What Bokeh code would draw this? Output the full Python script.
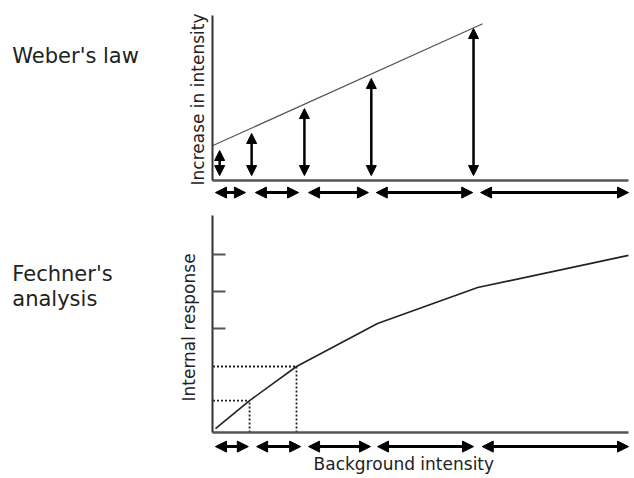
import numpy as np
from bokeh.plotting import figure
from bokeh.models import (ColumnDataSource, Arrow, NormalHead, Label,
                          LinearAxis, FixedTicker, Range1d)
from bokeh.layouts import column
from bokeh.embed import file_html
from bokeh.resources import INLINE

# ---------------- data (relative units) ----------------
# Top panel: Weber's law
weber_line_x = [0.0, 64.9]
weber_line_y = [21.2, 95.0]
test_intensity = [1.6, 9.3, 22.0, 38.1, 62.7]
increment_top = [18.2, 28.5, 43.6, 61.8, 92.1]
increment_base = [3.0, 3.0, 3.0, 3.0, 3.0]
step_start_top = [0.6, 10.2, 23.0, 39.3, 64.4]
step_end_top = [7.8, 20.6, 37.4, 62.5, 100.0]
step_level_top = -7.3

# Bottom panel: Fechner's analysis
response_x = [0.6, 8.8, 20.1, 39.6, 63.7, 100.0]
response_y = [1.8, 14.7, 30.4, 50.2, 66.8, 81.6]
marked_x = [8.8, 20.1]
marked_y = [14.7, 30.4]
response_ticks = [47.9, 65.0, 82.0]
step_start_bot = [0.6, 10.5, 23.0, 39.6, 64.8]
step_end_bot = [8.5, 21.1, 37.9, 62.7, 100.0]
step_level_bot = -6.5

FONT = "DejaVu Sans"
TXT = "#222222"
W = 634
X_LEFT = -50.18  # room for the panel titles left of the axes
X_RIGHT = 100.24


def make_fig(height, y_range):
    p = figure(width=W, height=height, x_range=Range1d(X_LEFT, X_RIGHT), y_range=y_range,
               output_backend="svg", toolbar_location=None, title=None,
               x_axis_location=None, y_axis_location=None,
               min_border_left=4, min_border_right=5,
               min_border_top=0, min_border_bottom=0)
    p.outline_line_color = None
    p.xgrid.visible = False
    p.ygrid.visible = False
    p.background_fill_color = "white"
    p.border_fill_color = "white"
    # x axis drawn at y = 0
    xa = LinearAxis(fixed_location=0, bounds=(0, 100), ticker=FixedTicker(ticks=[]),
                    axis_line_color="#555555", axis_line_width=2.5,
                    major_tick_line_color=None, minor_tick_line_color=None,
                    major_label_standoff=0, major_tick_out=0, major_tick_in=0)
    p.add_layout(xa, "below")
    return p


def add_steps(p, starts, ends, level):
    src = ColumnDataSource(dict(x0=starts, x1=ends, y=[level] * len(starts)))
    p.add_layout(Arrow(start=NormalHead(size=11, fill_color="black", line_color="black", line_width=1),
                       end=NormalHead(size=11, fill_color="black", line_color="black", line_width=1),
                       x_start="x0", y_start="y", x_end="x1", y_end="y",
                       source=src, line_width=3, line_color="black"))


# ---------------- top panel ----------------
top = make_fig(200, Range1d(-12.1, 109.1))
ax_t = LinearAxis(fixed_location=0, bounds=(0, 100), ticker=FixedTicker(ticks=[]),
                  axis_line_color="#333333", axis_line_width=2,
                  major_tick_line_color=None, minor_tick_line_color=None,
                  major_label_standoff=0, major_tick_out=0, major_tick_in=0)
top.add_layout(ax_t, "left")
top.line(weber_line_x, weber_line_y, line_color="#555555", line_width=1.2)

vsrc = ColumnDataSource(dict(x=test_intensity, y0=increment_base, y1=increment_top))
top.add_layout(Arrow(start=NormalHead(size=10, fill_color="black", line_color="black", line_width=1),
                     end=NormalHead(size=10, fill_color="black", line_color="black", line_width=1),
                     x_start="x", y_start="y0", x_end="x", y_end="y1",
                     source=vsrc, line_width=2.5, line_color="black"))
add_steps(top, step_start_top, step_end_top, step_level_top)

top.add_layout(Label(x=-48.3, y=75.7, text="Weber's law", text_font=FONT,
                     text_font_size="21px", text_color=TXT,
                     text_align="left", text_baseline="alphabetic"))
top.add_layout(Label(x=-3.5, y=49.1, text="Increase in intensity", text_font=FONT,
                     text_font_size="17px", text_color=TXT, angle=np.pi / 2,
                     text_align="center", text_baseline="middle"))

# ---------------- bottom panel ----------------
bot = make_fig(278, Range1d(-21.2, 106.9))
ax_b = LinearAxis(fixed_location=0, bounds=(0, 100), ticker=FixedTicker(ticks=response_ticks),
                  axis_line_color="#333333", axis_line_width=2,
                  major_tick_in=13, major_tick_out=0,
                  major_tick_line_color="#555555", major_tick_line_width=2,
                  minor_tick_line_color=None, major_label_standoff=0,
                  major_label_overrides={t: "" for t in response_ticks})
bot.add_layout(ax_b, "left")

bot.segment(x0=[0] * len(marked_x), y0=marked_y, x1=marked_x, y1=marked_y,
            line_color="#222222", line_width=1.8, line_dash="2 2")
bot.segment(x0=marked_x, y0=[0] * len(marked_x), x1=marked_x, y1=marked_y,
            line_color="#222222", line_width=1.8, line_dash="2 2")
bot.line(response_x, response_y, line_color="#222222", line_width=1.6)
add_steps(bot, step_start_bot, step_end_bot, step_level_bot)

bot.add_layout(Label(x=-48.3, y=73.2, text="Fechner's", text_font=FONT,
                     text_font_size="21px", text_color=TXT,
                     text_align="left", text_baseline="alphabetic"))
bot.add_layout(Label(x=-48.3, y=61.7, text="analysis", text_font=FONT,
                     text_font_size="21px", text_color=TXT,
                     text_align="left", text_baseline="alphabetic"))
bot.add_layout(Label(x=-5.8, y=48.4, text="Internal response", text_font=FONT,
                     text_font_size="17px", text_color=TXT, angle=np.pi / 2,
                     text_align="center", text_baseline="middle"))
bot.add_layout(Label(x=24.2, y=-14.5, text="Background intensity", text_font=FONT,
                     text_font_size="17px", text_color=TXT,
                     text_align="left", text_baseline="alphabetic"))

layout = column(top, bot, spacing=0)
open("out.html", "w").write(file_html(layout, INLINE))
